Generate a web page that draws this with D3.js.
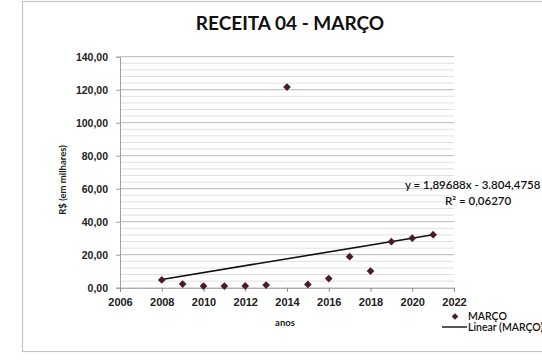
<!DOCTYPE html>
<html><head><meta charset="utf-8">
<script src="https://cdn.jsdelivr.net/npm/d3@7"></script>
<style>
html,body{margin:0;padding:0;background:#fff;}
svg{display:block;font-family:Lato,"Open Sans",sans-serif;}
</style></head>
<body><svg id="c" width="542" height="364"></svg>
<script>
const title = "RECEITA 04 - MARÇO";
const years = [2008,2009,2010,2011,2012,2013,2014,2015,2016,2017,2018,2019,2020,2021];
const values = [4.7,2.2,1.0,1.0,1.1,1.6,121.6,2.0,5.5,18.8,10.1,27.9,30.0,32.1];
const xTicks = [2006,2008,2010,2012,2014,2016,2018,2020,2022];
const yTicks = [0,20,40,60,80,100,120,140];
const seriesName = "MARÇO";
const trendName = "Linear (MARÇO)";
const eqText = "y = 1,89688x - 3.804,4758";
const r2Text = "R² = 0,06270";

const svg = d3.select("#c");
// chart border
svg.append("rect").attr("x",22.5).attr("y",1.5).attr("width",540).attr("height",350)
  .attr("fill","#fff").attr("stroke","#c4c4c4").attr("stroke-width",1.2);

const x = d3.scaleLinear().domain([2006,2022]).range([120,454]);
const y = d3.scaleLinear().domain([0,140]).range([287.7,56.7]);

// minor gridlines
const minor = d3.range(0,141,4).filter(v=>v%20!==0);
svg.append("g").selectAll("line").data(minor).join("line")
  .attr("x1",x(2006)).attr("x2",x(2022)).attr("y1",d=>y(d)).attr("y2",d=>y(d))
  .attr("stroke","#e0e0e0").attr("stroke-width",1);
// major gridlines
svg.append("g").selectAll("line").data(yTicks.filter(v=>v>0)).join("line")
  .attr("x1",x(2006)).attr("x2",x(2022)).attr("y1",d=>y(d)).attr("y2",d=>y(d))
  .attr("stroke","#b8b8b8").attr("stroke-width",1);

// y axis
const fmt = v => d3.format(".2f")(v).replace(".",",");
const ya = svg.append("g").attr("transform",`translate(${x(2006)},0)`)
  .call(d3.axisLeft(y).tickValues(yTicks).tickFormat(fmt).tickSize(4).tickPadding(8));
ya.select(".domain").attr("stroke","#a0a0a0");
ya.selectAll(".tick line").attr("stroke","#a0a0a0");
ya.selectAll("text").attr("font-size",10.5).attr("font-weight","bold").attr("fill","#222");

// x axis
const xa = svg.append("g").attr("transform",`translate(0,${y(0)})`)
  .call(d3.axisBottom(x).tickValues(xTicks).tickFormat(d3.format("d")).tickSize(4).tickPadding(7));
xa.select(".domain").attr("stroke","#8a8a8a");
xa.selectAll(".tick line").attr("stroke","#8a8a8a");
xa.selectAll("text").attr("font-size",11).attr("font-weight","bold").attr("fill","#222");

// title and axis labels
svg.append("text").attr("x",290).attr("y",30).attr("text-anchor","middle")
  .attr("font-size",19).attr("font-weight","bold").attr("fill","#111").text(title);
svg.append("text").attr("transform","translate(66,180) rotate(-90)").attr("text-anchor","middle")
  .attr("font-size",9.5).attr("font-weight","bold").attr("fill","#222").text("R$ (em milhares)");
svg.append("text").attr("x",285).attr("y",326).attr("text-anchor","middle")
  .attr("font-size",9.5).attr("font-weight","bold").attr("fill","#222").text("anos");

// trendline (least squares)
const mx = d3.mean(years), my = d3.mean(values);
const slope = d3.sum(years.map((v,i)=>(v-mx)*(values[i]-my))) / d3.sum(years.map(v=>(v-mx)**2));
const icpt = my - slope*mx;
const ext = d3.extent(years);
svg.append("line").attr("x1",x(ext[0])).attr("x2",x(ext[1]))
  .attr("y1",y(icpt+slope*ext[0])).attr("y2",y(icpt+slope*ext[1]))
  .attr("stroke","#111").attr("stroke-width",1.6);

// points (square diamonds)
const diamond = d3.symbol().type(d3.symbolSquare).size(30);
const mcol = "#4a1b2b";
svg.append("g").selectAll("path").data(years).join("path")
  .attr("transform",(d,i)=>`translate(${x(d)},${y(values[i])}) rotate(45)`)
  .attr("d",diamond).attr("fill",mcol);

// equation
svg.append("text").attr("x",405).attr("y",189).attr("font-size",11.5).attr("font-weight",600).attr("fill","#111").text(eqText);
svg.append("text").attr("x",445).attr("y",205).attr("font-size",11.5).attr("font-weight",600).attr("fill","#111").text(r2Text);

// legend
svg.append("path").attr("transform","translate(455,316.5) rotate(45)").attr("d",d3.symbol().type(d3.symbolSquare).size(22)).attr("fill",mcol);
svg.append("text").attr("x",468).attr("y",320).attr("font-size",10.5).attr("font-weight",600).attr("fill","#111").text(seriesName);
svg.append("line").attr("x1",442).attr("x2",467).attr("y1",327).attr("y2",327).attr("stroke","#111").attr("stroke-width",1.4);
svg.append("text").attr("x",468).attr("y",331).attr("font-size",10.5).attr("font-weight",600).attr("fill","#111").text(trendName);
</script></body></html>
